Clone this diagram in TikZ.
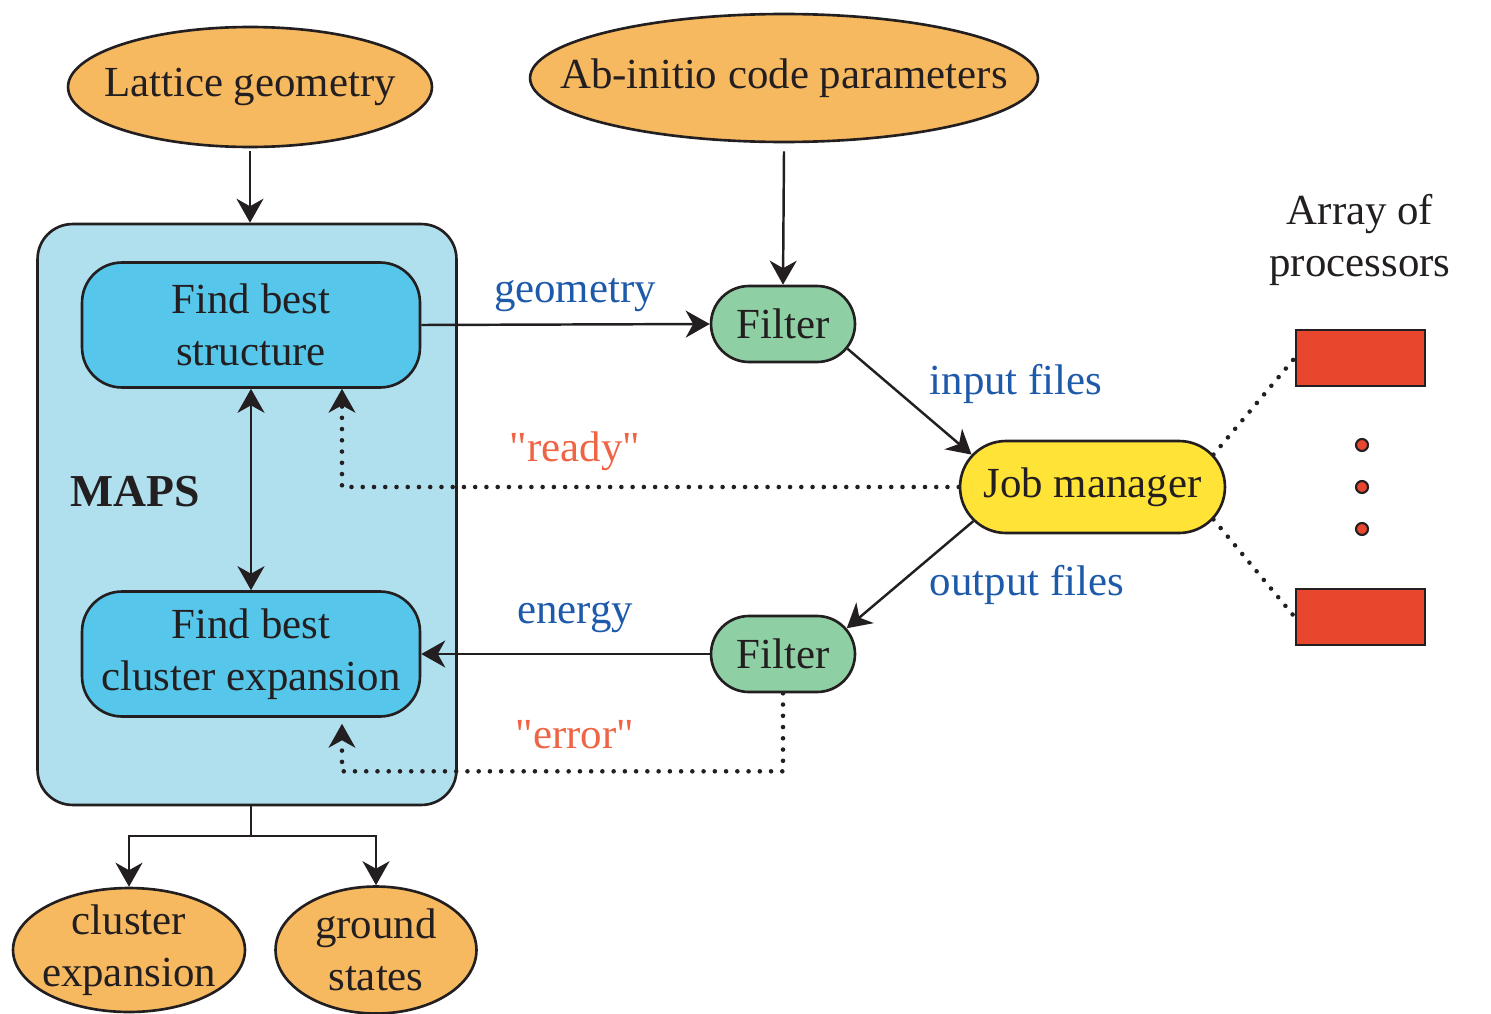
\documentclass[tikz,border=0pt]{standalone}
\usepackage{fontspec}
\setmainfont{Liberation Serif}
\newfontfamily\plainq{Liberation Serif}
\usetikzlibrary{arrows.meta,shapes.geometric,shapes.misc,calc}
\definecolor{orng}{RGB}{246,185,96}
\definecolor{mapsbg}{RGB}{176,224,238}
\definecolor{boxblue}{RGB}{86,199,234}
\definecolor{fgreen}{RGB}{143,207,164}
\definecolor{jmyel}{RGB}{255,227,55}
\definecolor{procred}{RGB}{232,71,46}
\definecolor{lblblue}{RGB}{30,90,170}
\definecolor{lblorng}{RGB}{238,100,68}
\definecolor{ink}{RGB}{35,31,32}
\tikzset{
  txt/.style={font=\fontsize{24.4}{29.4}\selectfont, text=ink},
  oval/.style={ellipse, draw=ink, line width=1.5pt, fill=orng, txt, inner xsep=-3cm, inner ysep=-1cm, align=center},
  blkbox/.style={rectangle, rounded corners=0.8cm, draw=ink, line width=1.5pt, fill=boxblue, txt, align=center, minimum width=6.76cm, minimum height=2.5cm},
  pill/.style={rounded rectangle, draw=ink, line width=1.5pt, txt, inner sep=0pt},
  proc/.style={rectangle, draw=ink, line width=1.5pt, fill=procred, minimum width=2.58cm, minimum height=1.12cm},
  dotc/.style={circle, draw=ink, line width=1.2pt, fill=procred, minimum size=0.24cm, inner sep=0pt},
  arr/.style={draw=ink, line width=1.4pt, -{Stealth[length=0.48cm, width=0.54cm, inset=0.15cm]}},
  dotline/.style={draw=ink, line width=2.6pt, line cap=round, dash pattern=on 0pt off 6.4pt},
  dotarr/.style={dotline, -{Stealth[length=0.48cm, width=0.54cm, inset=0.15cm, line width=1pt]}},
  bluelbl/.style={txt, text=lblblue},
  orlbl/.style={txt, text=lblorng}
}
\begin{document}
\begin{tikzpicture}[x=0.02cm,y=-0.02cm]
\useasboundingbox (0,0) rectangle (1491,1014);
% input ellipses
\node[oval, minimum width=7.28cm, minimum height=2.4cm] (lat) at (250,87) {Lattice geometry};
\node[oval, minimum width=10.16cm, minimum height=2.56cm] (abi) at (784,78) {Ab-initio code parameters};
% MAPS container
\node[rectangle, rounded corners=0.7cm, draw=ink, line width=1.5pt, fill=mapsbg, minimum width=8.38cm, minimum height=11.62cm] (maps) at (247,514.5) {};
\node[blkbox] (fbs) at (251,325) {Find best\\structure};
\node[blkbox] (fce) at (251,654) {Find best\\cluster expansion};
\node[txt, font=\fontsize{26}{30}\selectfont\bfseries] (mapslbl) at (135,492) {MAPS};
% filters and job manager
\node[pill, fill=fgreen, minimum width=2.88cm, minimum height=1.52cm] (f1) at (783,324) {Filter};
\node[pill, fill=fgreen, minimum width=2.88cm, minimum height=1.52cm] (f2) at (783,654) {Filter};
\node[pill, fill=jmyel, minimum width=5.3cm, minimum height=1.84cm] (jm) at (1092.5,487) {Job manager};
% processors
\node[txt, align=center] (arrlbl) at (1360,240) {Array of\\processors};
\node[proc] (p1) at (1360.5,358) {};
\node[proc] (p2) at (1360.5,617) {};
\node[dotc] (d1) at (1362,445) {};
\node[dotc] (d2) at (1362,487) {};
\node[dotc] (d3) at (1362,529) {};
% outputs
\node[oval, minimum width=4.64cm, minimum height=2.48cm] (ce) at (129,950) {cluster\\expansion};
\node[oval, minimum width=4.02cm, minimum height=2.54cm] (gs) at (376,950) {ground\\states};
% labels
\node[bluelbl] (lgeo) at (575,295) {geometry};
\node[bluelbl] (linp) at (1016,384) {input files};
\node[bluelbl] (lout) at (1027,585) {output files};
\node[bluelbl] (lene) at (575,617) {energy};
\node[orlbl] (lrdy) at (575,451) {\plainq "ready"};
\node[orlbl] (lerr) at (575,735) {\plainq "error"};
% connectors
\draw[arr] ([yshift=-0.06cm]lat.south) -- (lat.south |- maps.north);
\draw[arr] ([yshift=-0.16cm]abi.south) -- (f1.north);
\draw[arr] (fbs.east) -- (f1.west);
\draw[arr] (f1.-21.8) -- (jm.165.6);
\draw[arr] (jm.196.6) -- (f2.22.5);
\draw[arr] (f2.west) -- (fce.east);
\draw[draw=ink, line width=1.4pt, {Stealth[length=0.48cm, width=0.54cm, inset=0.15cm]}-{Stealth[length=0.48cm, width=0.54cm, inset=0.15cm]}] (fbs.south) -- (fce.north);
\draw[dotarr] (jm.west) -| ([xshift=1.82cm]fbs.south);
\draw[dotarr] (f2.south) -- ++(0,78) -| ([xshift=1.82cm,yshift=-0.12cm]fce.south);
\draw[dotline] (jm.15) -- (p1.west);
\draw[dotline] (jm.-15) -- (p2.west);
\draw[draw=ink, line width=1.4pt] (fbs.south |- maps.south) -- ++(0,30) coordinate (br);
\draw[arr] (br) -| (ce.north);
\draw[arr] (br) -| (gs.north);
\end{tikzpicture}
\end{document}
